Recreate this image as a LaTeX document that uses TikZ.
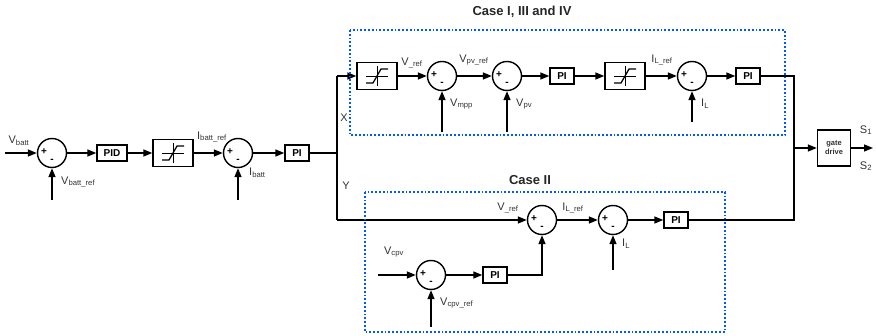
\documentclass[tikz,border=0pt]{standalone}
\usepackage{fontspec}
\setmainfont{Liberation Sans}
\usetikzlibrary{arrows.meta,calc}

\tikzset{
  sumnode/.style={circle,draw,line width=1.4pt,minimum size=29pt,inner sep=0pt},
  ctrlbox/.style={draw,line width=1.4pt,minimum width=24pt,minimum height=16pt,inner sep=1pt,font=\bfseries\fontsize{10}{11}\selectfont},
  satbox/.style={draw,line width=1.4pt,minimum width=40pt,minimum height=27pt},
  sig/.style={line width=1.4pt,-{Triangle[length=9pt,width=7pt]}},
  wire/.style={line width=1.4pt},
  lbl/.style={font=\fontsize{11}{13}\selectfont,text=black!80,inner sep=1pt},
  casebox/.style={draw=blue!65!cyan,dotted,line width=1.8pt},
  casetitle/.style={font=\bfseries\fontsize{13}{15}\selectfont,text=black!85},
}

% + and - inside a summing junction
\newcommand{\pmsigns}[1]{
  \node[font=\bfseries\fontsize{10}{10}\selectfont] at ($(#1)+(-8,-1)$) {+};
  \node[font=\bfseries\fontsize{10}{10}\selectfont] at ($(#1)+(0,8)$) {-};
}
% saturation curve inside a limiter box
\newcommand{\satcurve}[1]{
  \draw[line width=1pt] ($(#1)+(0,-10)$) -- ($(#1)+(0,10)$);
  \draw[line width=0.6pt] ($(#1)+(-11,0)$) -- ($(#1)+(11,0)$);
  \draw[line width=1.3pt] ($(#1)+(-11,7)$) -- ($(#1)+(-4,7)$) -- ($(#1)+(4,-7)$) -- ($(#1)+(11,-7)$);
}

\begin{document}
\begin{tikzpicture}[x=1pt,y=-1pt]
\useasboundingbox (0,0) rectangle (876,336);

% battery loop
\coordinate (vbin) at (5,153);
\node[sumnode] (s1) at (52,153) {};
\node[ctrlbox,minimum width=30pt] (pid) at (112,153) {PID};
\node[satbox] (sat1) at (173,153) {};
\node[sumnode] (s2) at (238,153) {};
\node[ctrlbox] (pi1) at (297,153) {PI};
\coordinate (split) at (337,153);
\coordinate (s1in) at (52,200);
\coordinate (s2in) at (238,200);

\draw[sig] (vbin) -- (s1);
\draw[sig] (s1) -- (pid);
\draw[sig] (pid) -- (sat1);
\draw[sig] (sat1) -- (s2);
\draw[sig] (s2) -- (pi1);
\draw[wire] (pi1) -- (split);
\draw[sig] (s1in) -- (s1);
\draw[sig] (s2in) -- (s2);
\pmsigns{s1}
\pmsigns{s2}
\satcurve{sat1}

\node[lbl] at (19,141) {V\textsubscript{batt}};
\node[lbl,anchor=west] at (60,182) {V\textsubscript{batt\_ref}};
\node[lbl] at (212,137) {I\textsubscript{batt\_ref}};
\node[lbl,anchor=west] at (248,173) {I\textsubscript{batt}};

% branch X / Y
\coordinate (xtop) at (337,76);
\coordinate (ybot) at (337,220);
\draw[wire] (xtop) -- (ybot);
\node[lbl] at (344,118) {X};
\node[lbl] at (346,186) {Y};

% case I, III and IV
\node[satbox] (sat2) at (377,76) {};
\node[sumnode] (s3) at (442,76) {};
\node[sumnode] (s4) at (507,76) {};
\node[ctrlbox] (pi2) at (562,76) {PI};
\node[satbox] (sat3) at (625,76) {};
\node[sumnode] (s5) at (692,76) {};
\node[ctrlbox] (pi3) at (748,76) {PI};
\coordinate (s3in) at (442,132);
\coordinate (s4in) at (507,132);
\coordinate (s5in) at (692,122);

\draw[sig] (xtop) -- (sat2);
\draw[sig] (sat2) -- (s3);
\draw[sig] (s3) -- (s4);
\draw[sig] (s4) -- (pi2);
\draw[sig] (pi2) -- (sat3);
\draw[sig] (sat3) -- (s5);
\draw[sig] (s5) -- (pi3);
\draw[sig] (s3in) -- (s3);
\draw[sig] (s4in) -- (s4);
\draw[sig] (s5in) -- (s5);
\pmsigns{s3}
\pmsigns{s4}
\pmsigns{s5}
\satcurve{sat2}
\satcurve{sat3}

\node[lbl] at (412,63) {V\textsubscript{\_ref}};
\node[lbl] at (474,60) {V\textsubscript{pv\_ref}};
\node[lbl,anchor=west] at (449,104) {V\textsubscript{mpp}};
\node[lbl,anchor=west] at (515,104) {V\textsubscript{pv}};
\node[lbl] at (662,60) {I\textsubscript{L\_ref}};
\node[lbl,anchor=west] at (700,104) {I\textsubscript{L}};

\draw[casebox] (350,30) rectangle (785,135);
\node[casetitle] at (522,12) {Case I, III and IV};

% case II
\node[sumnode] (s6) at (542,220) {};
\node[sumnode] (s7) at (613,220) {};
\node[ctrlbox] (pi4) at (676,220) {PI};
\node[sumnode] (s8) at (431,275) {};
\node[ctrlbox] (pi5) at (495,275) {PI};
\coordinate (vcpvin) at (378,275);
\coordinate (s8in) at (431,327);
\coordinate (s7in) at (613,270);
\coordinate (bend) at (542,275);

\draw[sig] (ybot) -- (s6);
\draw[sig] (s6) -- (s7);
\draw[sig] (s7) -- (pi4);
\draw[sig] (vcpvin) -- (s8);
\draw[sig] (s8) -- (pi5);
\draw[sig] (pi5) -- (bend) -- (s6);
\draw[sig] (s8in) -- (s8);
\draw[sig] (s7in) -- (s7);
\pmsigns{s6}
\pmsigns{s7}
\pmsigns{s8}

\node[lbl] at (508,208) {V\textsubscript{\_ref}};
\node[lbl] at (573,208) {I\textsubscript{L\_ref}};
\node[lbl,anchor=west] at (621,244) {I\textsubscript{L}};
\node[lbl] at (394,252) {V\textsubscript{cpv}};
\node[lbl,anchor=west] at (439,303) {V\textsubscript{cpv\_ref}};

\draw[casebox] (365,192) rectangle (725,332);
\node[casetitle] at (530,180) {Case II};

% gate drive
\node[draw,line width=1.4pt,minimum width=33pt,minimum height=36pt,align=center,
  font=\bfseries\fontsize{7.5}{9}\selectfont,text=black!80] (gate) at (834,148) {gate\\drive};
\coordinate (rtop) at (794,76);
\coordinate (rbot) at (794,220);
\coordinate (gin) at (794,148);
\coordinate (sout) at (873,148);
\draw[wire] (pi3) -- (rtop) -- (rbot) -- (pi4);
\draw[sig] (gin) -- (gate);
\draw[sig] (gate) -- (sout);
\node[lbl] at (866,130) {S\textsubscript{1}};
\node[lbl] at (866,166) {S\textsubscript{2}};

\end{tikzpicture}
\end{document}
